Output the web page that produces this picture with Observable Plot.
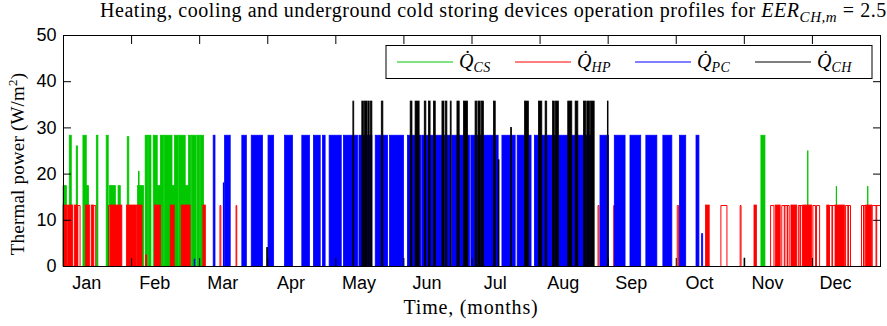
<!DOCTYPE html>
<html><head><meta charset="utf-8">
<script src="https://cdn.jsdelivr.net/npm/d3@7"></script>
<script src="https://cdn.jsdelivr.net/npm/@observablehq/plot@0.6"></script>
<style>body{margin:0;background:#fff}</style>
</head><body><div id="chart"></div>
<script>
// ---- data (x in days of year, y in W/m2) ----
const months = ["Jan","Feb","Mar","Apr","May","Jun","Jul","Aug","Sep","Oct","Nov","Dec"];
const yTicks = [0, 10, 20, 30, 40, 50];
const seriesNames = ["CS", "HP", "PC", "CH"];

// dense operation periods [startDay, endDay, power]
const csBlocks = [
  [0,1.5,17.4],[2.8,3.7,28.3],[5.9,6.5,26.0],[8.9,10.4,28.3],[10.4,11.4,17.4],[14.9,15.6,28.3],
  [19.3,20.2,28.3],[20.7,23.4,17.4],[24.6,25.6,17.4],[28.7,29.4,28.0],[33.3,36.0,17.4],[33.7,34.0,20.5],
  [36.7,37.8,28.3],[38.1,39.3,28.3],[40.3,42.1,28.3],[42.1,43.5,17.4],[43.5,45.0,28.3],[45.3,48.7,28.3],
  [48.7,50.2,17.4],[49.8,51.5,28.3],[51.8,54.6,28.3],[54.6,56.0,17.4],[56.1,57.0,28.3],[57.4,59.5,28.3],
  [59.9,61.0,28.3],[61.3,62.8,28.3],[311.8,313.6,28.3]
];
const hpBlocks = [
  [0,1.6,13.2],[2.0,4.4,13.2],[5.1,6.4,13.2],[10.0,11.9,13.2],[12.6,13.5,13.2],[21.1,26.3,13.2],
  [28.3,33.0,13.2],[33.3,35.3,13.2],[36.9,37.4,2.4],[40.9,43.5,13.2],[47.9,49.7,13.2],[52.8,56.8,13.2],
  [62.5,63.6,13.2],[287.0,288.7,13.2],[308.7,309.8,13.2],[318.2,320.4,13.2],[325.2,327.8,13.2],
  [330.5,334.5,13.2],[341.2,342.2,13.2],[344.9,349.1,13.2],[358.6,361.3,13.2]
];
const pcBlocks = [
  [58.6,58.9,1.5],[67.1,67.9,28.3],[71.6,71.9,18.0],[72.2,74.7,28.3],[79.9,81.9,28.3],[84.1,89.1,28.3],
  [91.6,94.1,28.3],[99.0,102.5,28.3],[106.7,110.1,28.3],[111.9,114.9,28.3],[115.9,117.1,28.3],
  [118.9,124.3,28.3],[125.3,131.6,28.3],[132.2,138.0,28.3],[139.5,145.0,28.3],[145.9,152.1,28.3],
  [153.9,159.9,28.3],[160.3,173.0,28.3],[173.7,181.6,28.3],[182.2,194.4,28.3],[196.1,202.0,28.3],
  [202.9,209.1,28.3],[210.6,236.2,28.3],[239.9,243.7,28.3],[246.3,251.1,28.3],[253.3,258.1,28.3],
  [260.4,265.3,28.3],[268.0,272.0,28.3],[275.4,278.2,28.3],[282.8,284.1,28.3],[285.3,285.8,7.0]
];
const chBlocks = [
  [91.0,91.4,4.0],[129.5,129.9,35.7],[133.5,134.2,35.7],[134.7,135.8,35.7],[136.2,136.8,35.7],
  [137.3,138.0,35.7],[142.2,142.9,35.7],[155.1,155.9,35.7],[157.3,159.1,35.7],[161.4,162.1,35.7],
  [163.3,164.0,35.7],[165.5,166.3,35.7],[169.3,170.2,35.7],[170.8,171.5,35.7],[173.0,173.4,35.7],
  [176.0,177.0,35.7],[178.9,180.7,35.7],[184.1,184.9,35.7],[185.4,186.4,35.7],[186.9,187.8,35.7],
  [192.3,193.1,35.7],[194.4,194.8,23.0],[200.0,200.4,30.0],[206.2,207.9,35.7],[212.4,213.9,35.7],
  [215.4,216.1,35.7],[218.7,219.5,35.7],[220.0,221.3,35.7],[225.5,227.3,35.7],[228.8,230.0,35.7],
  [232.5,233.5,35.7],[234.0,235.2,35.7],[235.7,237.3,35.7],[243.2,243.5,35.7],[304.3,304.6,1.7]
];
// single runs [startDay, endDay, power]
const csPulses = [[332.5,332.5,25.1],[345.3,345.3,17.4],[359.3,359.3,17.4]];
const hpPulses = [
  [6.4,7.4,13.2],[13.5,14.4,13.2],[20.1,21.1,13.2],[69.9,70.3,13.2],[77.1,77.4,13.2],[238.8,239.2,13.2],
  [245.8,246.2,13.2],[274.2,274.8,13.2],[293.7,296.4,13.2],[302.3,302.7,13.2],
  [315.9,317.4,13.2],[320.9,324.2,13.2],[322.0,322.3,13.2],[323.3,323.5,13.2],[328.3,330.1,13.2],
  [329.0,329.3,13.2],[334.8,336.0,13.2],[336.4,337.8,13.2],[342.2,344.9,13.2],[343.3,343.6,13.2],
  [349.4,351.6,13.2],[350.4,350.7,13.2],[356.5,358.6,13.2],[357.4,357.7,13.2],[361.3,365,13.2],
  [363.0,363.3,13.2]
];
const pcPulses = [];
const chPulses = [];

const colors = {CS: "#00c800", HP: "#ff0000", PC: "#0000ff", CH: "#000000"};
const series = [
  {name: "CS", blocks: csBlocks, pulses: csPulses},
  {name: "HP", blocks: hpBlocks, pulses: hpPulses},
  {name: "PC", blocks: pcBlocks, pulses: pcPulses},
  {name: "CH", blocks: chBlocks, pulses: chPulses}
];

const monthStarts = d3.range(13).map(i => i * 365 / 12);
const labelPos = months.map((m, i) => (i + 0.34) * 365 / 12);
const labelMap = new Map(labelPos.map((p, i) => [p, months[i]]));

function pulsePoints(pulses) {
  const pts = [];
  pulses.forEach((p, k) => {
    pts.push({x: p[0], y: 0, k}, {x: p[0], y: p[2], k}, {x: p[1], y: p[2], k}, {x: p[1], y: 0, k});
  });
  return pts;
}

const W = 887, H = 326;
const chart = Plot.plot({
  width: W, height: H,
  marginLeft: 63, marginRight: 7, marginTop: 35, marginBottom: 60,
  x: {domain: [0, 365]},
  y: {domain: [0, 50]},
  style: {fontFamily: "'Liberation Sans', Arial, sans-serif", fontSize: "18px", background: "white", color: "black"},
  marks: [
    ...series.flatMap(s => [
      Plot.rect(s.blocks, {x1: d => d[0], x2: d => d[1], y1: d => 0, y2: d => d[2], fill: colors[s.name], stroke: colors[s.name], strokeWidth: 0.8}),
      Plot.line(pulsePoints(s.pulses), {x: "x", y: "y", z: "k", stroke: colors[s.name], strokeWidth: 1})
    ]),
    Plot.frame({stroke: "black", strokeWidth: 1}),
    Plot.axisY(yTicks, {anchor: "left", tickSize: 0, tickPadding: 7, label: null}),
    Plot.axisY(yTicks, {anchor: "left", tickSize: -8, tickFormat: () => "", label: null}),
    Plot.axisY(yTicks, {anchor: "right", tickSize: -8, tickFormat: () => "", label: null}),
    Plot.axisX(monthStarts, {anchor: "top", tickSize: -8, tickFormat: () => "", label: null}),
    Plot.axisX(monthStarts, {anchor: "bottom", tickSize: -8, tickFormat: () => "", label: null}),
    Plot.axisX(labelPos, {anchor: "bottom", tickSize: 0, tickPadding: 10, tickFormat: d => labelMap.get(d), label: null})
  ]
});
document.getElementById("chart").appendChild(chart);

// ---- title, axis labels, legend ----
const svg = d3.select(chart);
const serif = "'Liberation Serif', 'Times New Roman', serif";
const title = svg.append("text").attr("x", 100).attr("y", 17).attr("text-anchor", "start")
  .attr("font-family", serif).attr("font-size", 20).attr("letter-spacing", 0.55).attr("fill", "black");
title.append("tspan").text("Heating, cooling and underground cold storing devices operation profiles for ");
title.append("tspan").attr("font-style", "italic").text("EER");
title.append("tspan").attr("font-style", "italic").attr("font-size", 15).attr("dy", 5).text("CH,m");
title.append("tspan").attr("dy", -5).text(" = 2.5");

svg.append("text").attr("transform", "translate(24,164) rotate(-90)").attr("text-anchor", "middle")
  .attr("font-family", serif).attr("font-size", 19).attr("letter-spacing", 0.2).attr("fill", "black")
  .call(t => {
    t.append("tspan").text("Thermal power (W/m");
    t.append("tspan").attr("font-size", 13).attr("dy", -7).text("2");
    t.append("tspan").attr("dy", 7).text(")");
  });

svg.append("text").attr("x", 471).attr("y", 314).attr("text-anchor", "middle")
  .attr("font-family", serif).attr("font-size", 20).attr("letter-spacing", 0.8).attr("fill", "black").text("Time, (months)");

const lg = svg.append("g");
lg.append("rect").attr("x", 386).attr("y", 45.5).attr("width", 486).attr("height", 33)
  .attr("fill", "white").attr("stroke", "black").attr("stroke-width", 1);
const legendX = [397, 515, 635, 755];
seriesNames.forEach((n, i) => {
  const x0 = legendX[i];
  lg.append("line").attr("x1", x0).attr("x2", x0 + 56).attr("y1", 62).attr("y2", 62)
    .attr("stroke", colors[n]).attr("stroke-width", 1);
  const t = lg.append("text").attr("x", x0 + 62).attr("y", 68).attr("text-anchor", "start")
    .attr("font-family", serif).attr("font-size", 20).attr("font-style", "italic").attr("fill", "black");
  t.append("tspan").text("Q\u0307");
  t.append("tspan").attr("font-size", 14).attr("dy", 4).attr("letter-spacing", 0.5).text(n);
});
</script></body></html>
